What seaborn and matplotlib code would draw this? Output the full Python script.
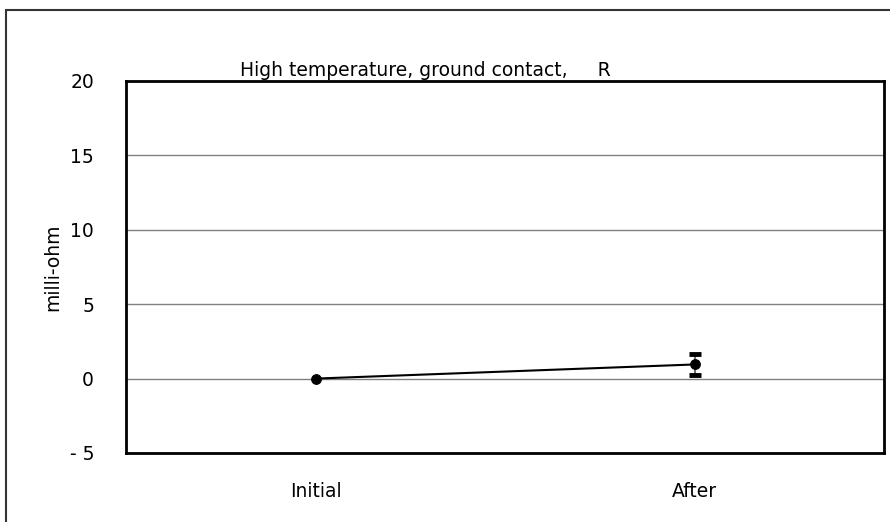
import numpy as np
import matplotlib
matplotlib.use("Agg")
import matplotlib.pyplot as plt
import seaborn as sns
import pandas as pd

# data
stages = ["Initial", "After"]
mean_mohm = [0.0, 0.95]
err_mohm = [0.0, 0.73]
y_ticks = [-5, 0, 5, 10, 15, 20]

sns.set_theme(style="white")
plt.rcParams['font.family'] = ['DejaVu Sans']
plt.rcParams['text.color'] = 'black'
plt.rcParams['axes.labelcolor'] = 'black'
plt.rcParams['xtick.color'] = 'black'
plt.rcParams['ytick.color'] = 'black'

df = pd.DataFrame({"stage": stages, "value": mean_mohm, "err": err_mohm})

fig = plt.figure(figsize=(8.9, 5.22), dpi=100)
ax = fig.add_axes([126 / 890, 1 - 453 / 522, (884 - 126) / 890, (453 - 81) / 522])

# outer chart border
fig.patches.append(plt.Rectangle((6 / 890, -0.05), 1.0, 1 - 10 / 522 + 0.05,
                                 transform=fig.transFigure, fill=False,
                                 edgecolor='#333333', linewidth=1.5))

for t in y_ticks[1:-1]:
    ax.axhline(t, color='#808080', linewidth=1, zorder=0)

# line first so the category order stays Initial, After
sns.lineplot(data=df, x="stage", y="value", ax=ax, color='black',
             linewidth=1.5, marker='o', markersize=7, markeredgecolor='black',
             sort=False, zorder=3)

with_err = df[df["err"] > 0]
eb = ax.errorbar(with_err["stage"], with_err["value"], yerr=with_err["err"], fmt='none',
                 ecolor='#707070', elinewidth=1.5, capsize=4.5, capthick=3.5, zorder=1.5)
for cap in eb[1]:
    cap.set_color('black')
    cap.set_markeredgecolor('black')
    cap.set_markerfacecolor('black')

ax.set_xlim(-0.5, 1.5)
ax.set_ylim(-5, 20)
ax.set_yticks(y_ticks)
ax.set_yticklabels([f"{v}" if v >= 0 else f"- {abs(v)}" for v in y_ticks])
ax.tick_params(axis='both', labelsize=13.5, length=0, labelcolor='black')
ax.tick_params(axis='y', pad=23)
ax.tick_params(axis='x', pad=21)
ax.set_xlabel("")
ax.set_ylabel("milli-ohm", fontsize=13.5, labelpad=5, color='black')
for s in ax.spines.values():
    s.set_color('black')
    s.set_linewidth(2)

fig.text(425 / 890, 1 - 71 / 522, "High temperature, ground contact,     R",
         ha='center', va='center', fontsize=13.5, color='black')

fig.savefig("out.png", dpi=100)
